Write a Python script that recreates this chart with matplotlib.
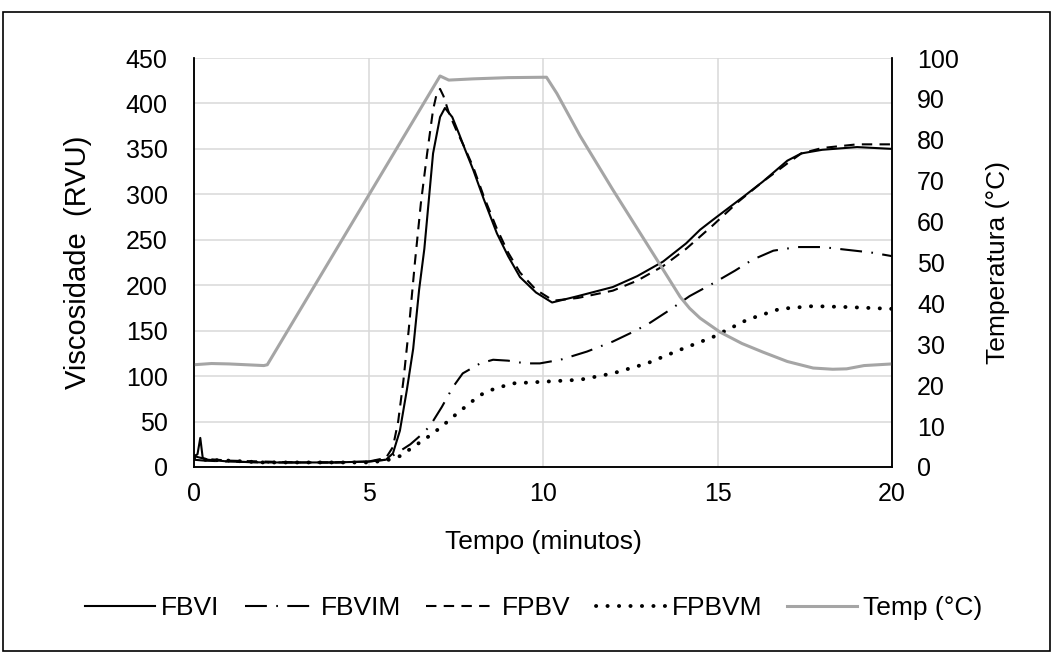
import matplotlib
matplotlib.use("Agg")
import matplotlib.pyplot as plt
from matplotlib.patches import Rectangle

plt.rcParams["font.family"] = ["Liberation Sans", "DejaVu Sans"]

# RVA pasting curves: viscosity (RVU) versus time (min)
fbvi_t = [0, 0.1, 0.18, 0.25, 0.4, 1, 2, 3, 4, 5, 5.5, 5.7, 5.9, 6.1, 6.28, 6.45, 6.6,
          6.85, 7.05, 7.19, 7.4, 7.6, 7.77, 8.0, 8.3, 8.68, 9.0, 9.34, 9.8, 10.26,
          11.0, 12.0, 12.7, 13.44, 14.1, 14.5, 14.87, 15.73, 16.3, 17.0, 17.4, 18.0,
          19.0, 20.0]
fbvi_v = [12, 14, 32, 10, 8, 6, 5, 5, 5, 6, 8, 15, 40, 85, 130, 195, 240,
          345, 385, 395, 385, 366, 349, 327, 295, 257, 232, 209, 192, 181,
          188, 198, 210, 226, 246, 261, 272, 297, 314, 337, 345, 349,
          352, 350]

fbvim_t = [0, 0.3, 1, 2, 3, 4, 5, 5.5, 5.8, 6.2, 6.5, 6.76, 7.1, 7.42, 7.7, 8.2, 8.57,
           9.0, 9.5, 9.91, 10.5, 11.26, 12.0, 12.49, 13.0, 13.64, 14.2, 14.87, 15.5,
           16.0, 16.6, 17.28, 18.0, 18.7, 19.4, 20.0]
fbvim_v = [8, 7, 6, 5, 5, 5, 6, 8, 15, 25, 35, 45, 66, 88, 103, 114, 118,
           117, 114, 114, 118, 127, 138, 147, 157, 173, 188, 202, 216,
           228, 238, 242, 242, 239, 236, 232]

fpbv_t = [0, 0.3, 1, 2, 3, 4, 5, 5.5, 5.7, 5.85, 6.0, 6.15, 6.33, 6.5, 6.68, 6.85,
          6.95, 7.05, 7.15, 7.3, 7.5, 7.77, 8.0, 8.3, 8.68, 9.0, 9.34, 9.8, 10.3,
          11.0, 12.0, 12.7, 13.44, 14.1, 14.87, 15.6, 16.3, 17.0, 17.4, 18.0, 19.0,
          20.0]
fpbv_v = [12, 9, 7, 6, 5, 5, 6, 10, 22, 50, 95, 150, 225, 290, 345, 393,
          410, 416, 408, 390, 372, 350, 330, 298, 262, 236, 214, 195, 183,
          186, 194, 205, 221, 240, 266, 292, 314, 334, 345, 351, 355,
          355]

fpbvm_t = [0, 0.3, 1, 2, 3, 4, 5, 5.5, 5.9, 6.28, 6.7, 7.05, 7.54, 8.19, 8.6, 9.14,
           10.1, 11.06, 12.0, 12.98, 13.93, 14.87, 15.85, 16.79, 17.74, 18.7, 20.0]
fpbvm_v = [10, 8, 7, 5, 5, 5, 5, 7, 12, 22, 33, 43, 59, 79, 86, 92,
           94, 96, 103, 114, 129, 143, 162, 174, 177, 176, 174]

# Temperature programme (°C)
temp_t = [0, 0.5, 1, 2.0, 2.1, 7.05, 7.3, 8, 9, 10.1, 10.4, 11.06, 12.0, 13.27,
          13.93, 14.2, 14.5, 15.07, 15.7, 16.3, 17.0, 17.74, 18.3, 18.7, 19.2, 20.0]
temp_c = [25, 25.3, 25.2, 24.8, 25, 95.6, 94.6, 94.9, 95.2, 95.3, 91.3, 81, 67.8, 50.6,
          41.6, 38.8, 36.4, 33, 30.2, 28.1, 25.8, 24.2, 23.9, 24.0, 24.8, 25.2]

visc_ticks = list(range(0, 451, 50))
temp_ticks = list(range(0, 101, 10))
time_ticks = [0, 5, 10, 15, 20]

W, H = 1053, 654
fig = plt.figure(figsize=(W / 100, H / 100), dpi=100)
fig.patches.append(Rectangle((3 / W, 1 - 651 / H), 1047 / W, 639 / H,
                             transform=fig.transFigure, fill=False,
                             edgecolor="black", lw=1.2, zorder=0))

L, R, T, B = 194, 892, 58, 467
ax = fig.add_axes([L / W, 1 - B / H, (R - L) / W, (B - T) / H])
ax2 = ax.twinx()

FS_TICK = 18
FS_TXT = 19      # x title and legend
FS_VIS = 21      # left axis title
FS_TMP = 19      # right axis title
black_lw = 1.5
ax.plot(fbvi_t, fbvi_v, color="black", lw=black_lw, solid_joinstyle="round",
        label="FBVI")
ax.plot(fbvim_t, fbvim_v, color="black", lw=black_lw,
        linestyle=(0, (10.5, 4.5, 0.8, 4.5)), label="FBVIM")
ax.plot(fpbv_t, fpbv_v, color="black", lw=black_lw,
        linestyle=(0, (5, 3.5)), label="FPBV")
ax.plot(fpbvm_t, fpbvm_v, color="black", lw=2.8, dash_capstyle="round",
        linestyle=(0, (0.05, 2.9)), label="FPBVM")
ax2.plot(temp_t, temp_c, color="#A5A5A5", lw=2.2, solid_joinstyle="round",
         label="Temp (°C)")

ax.set_xlim(0, 20)
ax.set_ylim(0, 450)
ax2.set_ylim(0, 100)
ax.set_xticks(time_ticks)
ax.set_yticks(visc_ticks)
ax2.set_yticks(temp_ticks)

ax.grid(True, color="#D9D9D9", lw=1.1)
ax.set_axisbelow(True)
ax.tick_params(axis="both", length=0, labelsize=FS_TICK)
ax.tick_params(axis="y", pad=19)
ax.tick_params(axis="x", pad=11)
ax2.tick_params(axis="y", length=0, labelsize=FS_TICK, pad=18)

for a in (ax, ax2):
    a.spines["top"].set_visible(False)
    for s in ("left", "right", "bottom"):
        a.spines[s].set_color("black")
        a.spines[s].set_linewidth(1.1)

ax.set_ylabel("Viscosidade  (RVU)", fontsize=FS_VIS, va="center")
ax.yaxis.set_label_coords((78 - L) / (R - L), 0.5)
ax2.set_ylabel("Temperatura (°C)", fontsize=FS_TMP, va="center")
ax2.yaxis.set_label_coords((998 - L) / (R - L), 0.5)
ax.set_xlabel("Tempo (minutos)", fontsize=FS_TXT, va="center")
ax.xaxis.set_label_coords(0.5, (B - 542) / (B - T))

h1, l1 = ax.get_legend_handles_labels()
h2, l2 = ax2.get_legend_handles_labels()
fig.legend(h1 + h2, l1 + l2, loc="center", ncol=5, frameon=False,
           fontsize=FS_TXT, handlelength=2.65, handletextpad=0.23,
           columnspacing=0.95, bbox_to_anchor=(534 / W, 1 - 608 / H))

fig.savefig("out.png", dpi=100)
